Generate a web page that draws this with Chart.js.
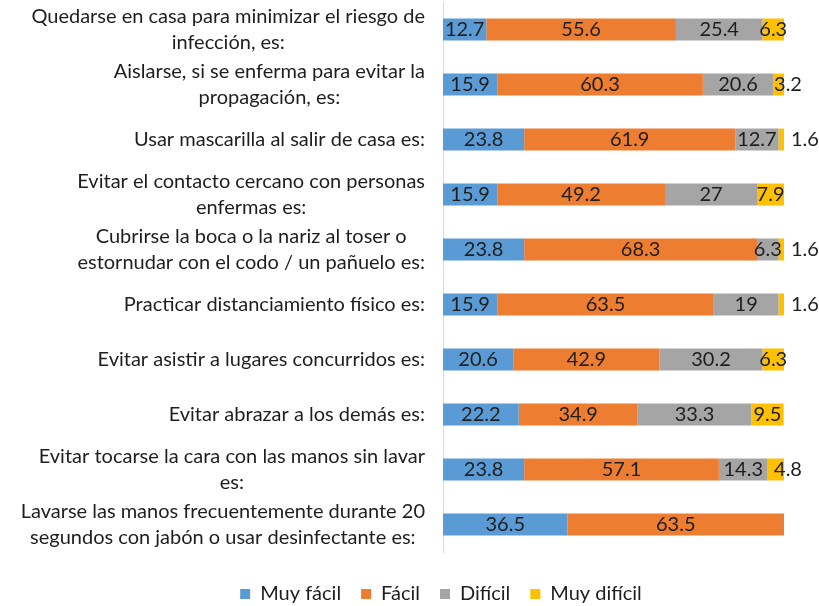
<!DOCTYPE html>
<html>
<head>
<meta charset="utf-8">
<script src="https://cdn.jsdelivr.net/npm/chart.js@4/dist/chart.umd.min.js"></script>
<style>
  html, body { margin: 0; padding: 0; background: #fff; }
  #wrap { width: 819px; height: 606px; }
</style>
</head>
<body>
<div id="wrap"><canvas id="chart"></canvas></div>
<script>
// Categories (one entry per line of the label)
const categories = [
    ['Quedarse en casa para minimizar el riesgo de', 'infección, es:'],
    ['Aislarse, si se enferma para evitar la', 'propagación, es:'],
    ['Usar mascarilla al salir de casa es:'],
    ['Evitar el contacto cercano con personas', 'enfermas es:'],
    ['Cubrirse la boca o la nariz al toser o', 'estornudar con el codo / un pañuelo es:'],
    ['Practicar distanciamiento físico es:'],
    ['Evitar asistir a lugares concurridos es:'],
    ['Evitar abrazar a los demás es:'],
    ['Evitar tocarse la cara con las manos sin lavar', 'es:'],
    ['Lavarse las manos frecuentemente durante 20', 'segundos con jabón o usar desinfectante es:']
];

const seriesNames = ['Muy fácil', 'Fácil', 'Difícil', 'Muy difícil'];
const muyFacil   = [12.7, 15.9, 23.8, 15.9, 23.8, 15.9, 20.6, 22.2, 23.8, 36.5];
const facil      = [55.6, 60.3, 61.9, 49.2, 68.3, 63.5, 42.9, 34.9, 57.1, 63.5];
const dificil    = [25.4, 20.6, 12.7, 27, 6.3, 19, 30.2, 33.3, 14.3, 0];
const muyDificil = [6.3, 3.2, 1.6, 7.9, 1.6, 1.6, 6.3, 9.5, 4.8, 0];

const colors = ['#5B9BD5', '#ED7D31', '#A5A5A5', '#FFC000'];
const textColor = '#1e1e1e';
const FONT = 'Lato, "Open Sans", sans-serif';
const FONT_SIZE = 20;
const PAD_LEFT = 98;

Chart.defaults.font.family = FONT;
Chart.defaults.font.size = FONT_SIZE;
Chart.defaults.color = textColor;

// category labels: block right-aligned at the axis, lines centred within the block
const categoryLabels = {
    id: 'categoryLabels',
    afterDraw(chart) {
        const ctx = chart.ctx;
        const y = chart.scales.y;
        const right = y.right - 18;
        const lineH = 26;
        ctx.save();
        ctx.font = FONT_SIZE + 'px ' + FONT;
        ctx.fillStyle = textColor;
        ctx.textAlign = 'center';
        ctx.textBaseline = 'middle';
        categories.forEach((lines, i) => {
            const cy = y.getPixelForTick(i);
            const w = Math.max(...lines.map(l => ctx.measureText(l).width));
            const cx = right - w / 2;
            const top = cy - (lines.length - 1) * lineH / 2;
            lines.forEach((l, j) => ctx.fillText(l, cx, top + j * lineH));
        });
        ctx.restore();
    }
};

// value labels in the bar segments; tiny segments get theirs pushed past the bar end
const valueLabels = {
    id: 'valueLabels',
    afterDatasetsDraw(chart) {
        const ctx = chart.ctx;
        ctx.save();
        ctx.font = FONT_SIZE + 'px ' + FONT;
        ctx.fillStyle = textColor;
        ctx.textBaseline = 'middle';
        chart.data.datasets.forEach((ds, di) => {
            const meta = chart.getDatasetMeta(di);
            meta.data.forEach((bar, i) => {
                const v = ds.data[i];
                if (!v) return;
                if (v < 2) {
                    ctx.textAlign = 'left';
                    ctx.fillText(String(v), bar.x + 7, bar.y);
                } else if (v < 5) {
                    ctx.textAlign = 'center';
                    ctx.fillText(String(v), bar.x + 4, bar.y);
                } else {
                    ctx.textAlign = 'center';
                    ctx.fillText(String(v), (bar.x + bar.base) / 2, bar.y);
                }
            });
        });
        ctx.restore();
    }
};

const seriesData = [muyFacil, facil, dificil, muyDificil];

new Chart(document.getElementById('chart'), {
    type: 'bar',
    data: {
        labels: categories.map(c => c.join(' ')),
        datasets: seriesNames.map((name, k) => ({
            label: name,
            data: seriesData[k],
            backgroundColor: colors[k],
            borderWidth: 0,
            categoryPercentage: 1,
            barPercentage: 0.4
        }))
    },
    options: {
        indexAxis: 'y',
        responsive: true,
        maintainAspectRatio: false,
        animation: false,
        layout: {
            padding: { top: 2, right: 35, bottom: -8, left: PAD_LEFT }
        },
        scales: {
            x: {
                stacked: true,
                min: 0,
                max: 100,
                ticks: { display: false },
                grid: { display: false },
                border: { display: false },
                afterFit: s => { s.height = 12; }
            },
            y: {
                stacked: true,
                ticks: { display: false },
                grid: { display: false },
                border: { display: true, color: '#d9d9d9', width: 1 },
                afterFit: s => { s.width = 443 - PAD_LEFT; }
            }
        },
        plugins: {
            legend: {
                position: 'bottom',
                labels: {
                    boxWidth: 10,
                    boxHeight: 10,
                    padding: 20,
                    color: textColor,
                    font: { size: FONT_SIZE }
                }
            },
            tooltip: { enabled: false }
        }
    },
    plugins: [categoryLabels, valueLabels]
});
</script>
</body>
</html>
